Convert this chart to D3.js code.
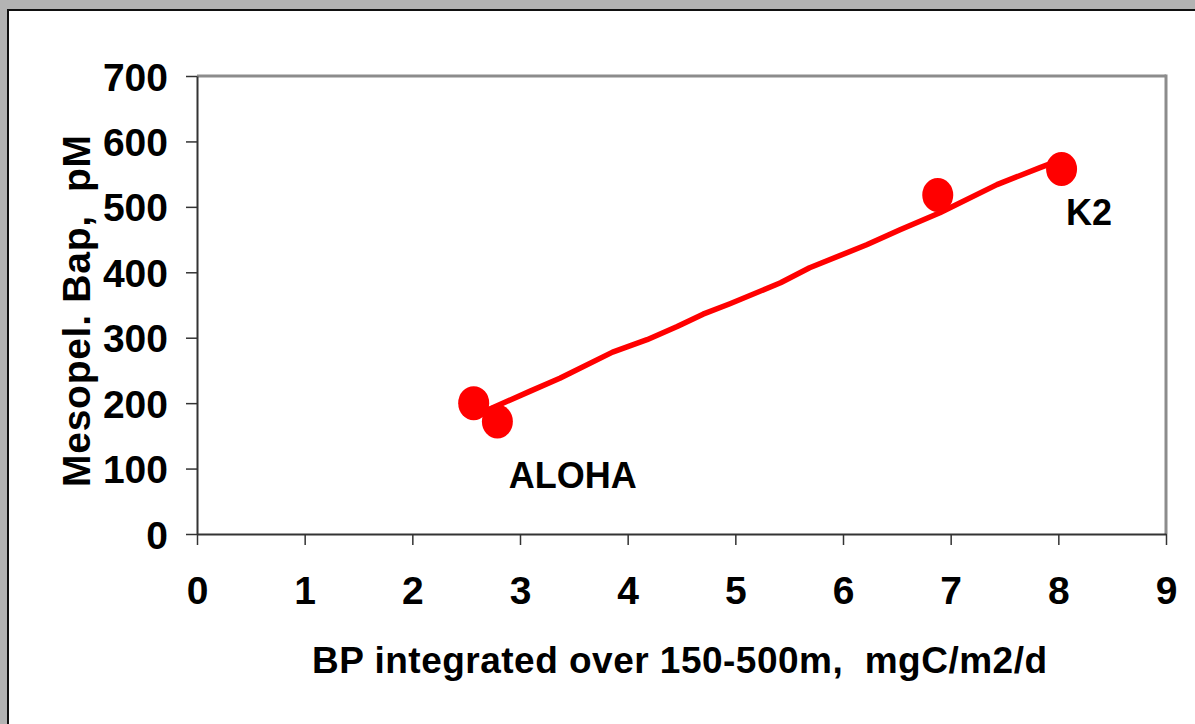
<!DOCTYPE html>
<html>
<head>
<meta charset="utf-8">
<script src="https://cdn.jsdelivr.net/npm/d3@7"></script>
<style>
  html, body { margin: 0; padding: 0; background: #b3b3b3; }
  svg { display: block; }
  text { font-family: "Liberation Sans", Arial, sans-serif; font-weight: bold; fill: #000; white-space: pre; }
</style>
</head>
<body>
<svg id="chart" width="1195" height="724"></svg>
<script>
// Observed stations: BP integrated 150-500 m (mgC/m2/d) vs mesopelagic Bap (pM)
const stationBP  = [2.57, 2.79, 6.88, 8.03];
const stationBap = [200, 172, 518, 558];

// Fitted trend line through the stations
const trendBP  = [2.72, 3.09, 3.37, 3.86, 4.18, 4.46, 4.70, 4.95, 5.42, 5.69, 6.22, 6.53, 6.90, 7.43, 7.83, 7.99];
const trendBap = [191, 218, 238, 278, 297, 317, 336, 352, 384, 407, 442, 465, 491, 534, 560, 570];

const xTicks = [0, 1, 2, 3, 4, 5, 6, 7, 8, 9];
const yTicks = [0, 100, 200, 300, 400, 500, 600, 700];

const stationLabels = ["ALOHA", "K2"];
const labelAnchors = [{ bp: 3.49, bap: 70 }, { bp: 8.285, bap: 473 }];

const svg = d3.select("#chart");

// white panel with dark top/left edge
svg.append("rect").attr("x", 8).attr("y", 10).attr("width", 1195).attr("height", 724).attr("fill", "#fff");
svg.append("line").attr("x1", 7).attr("x2", 1195).attr("y1", 10).attr("y2", 10).attr("stroke", "#111").attr("stroke-width", 2);
svg.append("line").attr("x1", 8).attr("x2", 8).attr("y1", 9).attr("y2", 724).attr("stroke", "#111").attr("stroke-width", 2);

const plot = { left: 197, right: 1166, top: 76, bottom: 534 };
const x = d3.scaleLinear().domain([0, 9]).range([plot.left, plot.right]);
const y = d3.scaleLinear().domain([0, 700]).range([plot.bottom, plot.top]);

// plot frame: grey top and right edges
svg.append("line").attr("x1", plot.left).attr("x2", plot.right).attr("y1", plot.top).attr("y2", plot.top).attr("stroke", "#8c8c8c").attr("stroke-width", 3);
svg.append("line").attr("x1", plot.right).attr("x2", plot.right).attr("y1", plot.top - 1.5).attr("y2", plot.bottom).attr("stroke", "#8c8c8c").attr("stroke-width", 3);

// axes
const xAxis = d3.axisBottom(x).tickValues(xTicks).tickFormat(d3.format("d")).tickSizeInner(11).tickSizeOuter(0).tickPadding(31);
const yAxis = d3.axisLeft(y).tickValues(yTicks).tickFormat(d3.format("d")).tickSizeInner(11).tickSizeOuter(0).tickPadding(18);

const gx = svg.append("g").attr("transform", `translate(0,${plot.bottom})`).call(xAxis);
const gy = svg.append("g").attr("transform", `translate(${plot.left},0)`).call(yAxis);

[gx, gy].forEach(g => {
  g.select(".domain").attr("stroke", "#333").attr("stroke-width", 2);
  g.selectAll(".tick line").attr("stroke", "#333").attr("stroke-width", 1.5);
  g.selectAll(".tick text").style("font-size", "39px").style("font-weight", "bold")
    .style("font-family", "'Liberation Sans', Arial, sans-serif").attr("fill", "#000");
});
gy.selectAll(".tick text").attr("dy", "0.36em");

// trend line
const line = d3.line().x((d, i) => x(trendBP[i])).y((d, i) => y(trendBap[i]));
svg.append("path").datum(trendBP).attr("d", line).attr("fill", "none")
  .attr("stroke", "#ff0000").attr("stroke-width", 5.5).attr("stroke-linejoin", "round").attr("stroke-linecap", "round");

// station markers
svg.selectAll("ellipse.station").data(stationBP).join("ellipse").attr("class", "station")
  .attr("cx", (d) => x(d)).attr("cy", (d, i) => y(stationBap[i]))
  .attr("rx", 15.5).attr("ry", 17).attr("fill", "#ff0000");

// station names
svg.selectAll("text.station-label").data(stationLabels).join("text").attr("class", "station-label")
  .attr("x", (d, i) => x(labelAnchors[i].bp)).attr("y", (d, i) => y(labelAnchors[i].bap))
  .attr("text-anchor", "middle").style("font-size", "36px").text(d => d);

// axis titles
svg.append("text").attr("x", 312).attr("y", 673)
  .attr("textLength", 735).attr("lengthAdjust", "spacing")
  .style("font-size", "37px")
  .text("BP integrated over 150-500m,  mgC/m2/d");
svg.append("text").attr("transform", "translate(90,487) rotate(-90)")
  .attr("textLength", 352).attr("lengthAdjust", "spacing")
  .style("font-size", "39px")
  .text("Mesopel. Bap,  pM");
</script>
</body>
</html>
